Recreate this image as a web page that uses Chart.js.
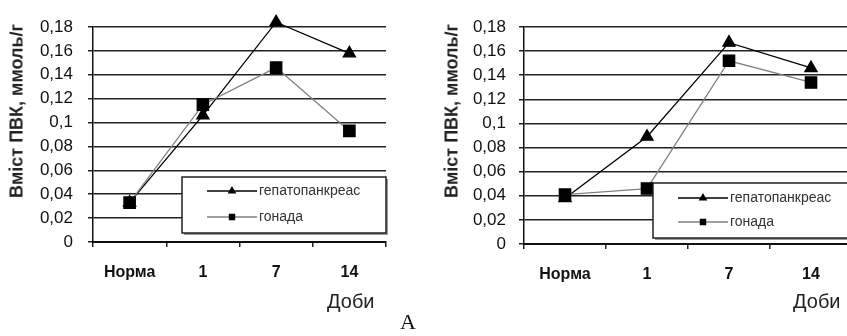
<!DOCTYPE html>
<html>
<head>
<meta charset="utf-8">
<script src="https://cdn.jsdelivr.net/npm/chart.js@4/dist/chart.umd.min.js"></script>
<style>
body { margin: 0; background: #fff; width: 847px; height: 336px; position: relative; overflow: hidden; font-family: "Liberation Sans", Arial, sans-serif; }
.panel { position: absolute; top: 0; height: 336px; overflow: hidden; }
#p1 { left: 0; width: 424px; }
#p2 { left: 424px; width: 423px; }
.ytitle { position: absolute; top: 111px; transform: translate(-50%, -50%) rotate(-90deg); white-space: nowrap; font-size: 18px; font-weight: bold; color: #222; }
.xtitle { position: absolute; top: 290px; font-size: 20px; color: #222; }
#letter { position: absolute; left: 400px; top: 309px; font-family: "Liberation Serif", "Times New Roman", serif; font-size: 22px; color: #111; }
</style>
</head>
<body>
<div class="panel" id="p1">
  <canvas id="chartA" width="424" height="336"></canvas>
  <div class="ytitle" style="left:17px">Вміст ПВК, ммоль/г</div>
  <div class="xtitle" style="left:327px">Доби</div>
</div>
<div class="panel" id="p2">
  <canvas id="chartB" width="440" height="336"></canvas>
  <div class="ytitle" style="left:28px">Вміст ПВК, ммоль/г</div>
  <div class="xtitle" style="left:369px">Доби</div>
</div>
<div id="letter">A</div>
<script>
// дані
const days = ['Норма', '1', '7', '14'];
const seriesNames = ['гепатопанкреас', 'гонада'];
const hepatoA = [0.033, 0.106, 0.184, 0.158];
const gonadA = [0.033, 0.115, 0.146, 0.093];
const hepatoB = [0.038, 0.089, 0.167, 0.146];
const gonadB = [0.041, 0.046, 0.152, 0.134];
const yMax = 0.18;
const yStep = 0.02;

// легенда в рамці всередині області графіка
const boxLegend = {
    id: 'boxLegend',
    afterDatasetsDraw(chart, args, opts) {
        const ctx = chart.ctx;
        const area = chart.chartArea;
        const x = area.right - opts.width;
        const y = area.bottom - opts.bottom - opts.height;
        ctx.save();
        ctx.fillStyle = '#999';
        ctx.fillRect(x + 2, y + 2, opts.width, opts.height);
        ctx.fillStyle = '#fff';
        ctx.fillRect(x, y, opts.width, opts.height);
        ctx.strokeStyle = '#222';
        ctx.lineWidth = 1.5;
        ctx.strokeRect(x, y, opts.width, opts.height);
        chart.data.datasets.forEach((ds, i) => {
            const ry = y + opts.rows[i];
            ctx.strokeStyle = ds.borderColor;
            ctx.lineWidth = 1.5;
            ctx.beginPath();
            ctx.moveTo(x + 25, ry);
            ctx.lineTo(x + 75, ry);
            ctx.stroke();
            ctx.fillStyle = '#000';
            ctx.strokeStyle = '#000';
            Chart.helpers.drawPoint(ctx, { pointStyle: ds.pointStyle, radius: 3.5, rotation: 0, borderWidth: 1 }, x + 50, ry);
            ctx.font = '14px "Liberation Sans", Arial, sans-serif';
            ctx.fillStyle = '#333';
            ctx.textBaseline = 'middle';
            ctx.textAlign = 'left';
            ctx.fillText(ds.label, x + 77, ry);
        });
        ctx.restore();
    }
};

function fmt(v) {
    return String(Number(v.toFixed(2))).replace('.', ',');
}

function makeChart(id, hepato, gonad, lay) {
    const ctx = document.getElementById(id).getContext('2d');
    return new Chart(ctx, {
        type: 'line',
        data: {
            labels: days,
            datasets: [{
                label: seriesNames[0],
                data: hepato,
                borderColor: '#000',
                borderWidth: 1.3,
                pointStyle: 'triangle',
                pointRadius: 7,
                pointBackgroundColor: '#000',
                pointBorderColor: '#000',
                tension: 0,
                clip: false,
                order: 1
            }, {
                label: seriesNames[1],
                data: gonad,
                borderColor: '#808080',
                borderWidth: 1.3,
                pointStyle: 'rect',
                pointRadius: 8,
                pointBackgroundColor: '#000',
                pointBorderColor: '#000',
                tension: 0,
                clip: false,
                order: 0
            }]
        },
        options: {
            responsive: false,
            animation: false,
            devicePixelRatio: 1,
            layout: { padding: { top: 27, right: lay.padRight, left: 0, bottom: 0 } },
            plugins: {
                legend: { display: false },
                tooltip: { enabled: false },
                boxLegend: lay.legend
            },
            scales: {
                x: {
                    offset: true,
                    grid: { offset: true, drawOnChartArea: false, drawTicks: true, tickLength: 5, color: '#222', lineWidth: 1.5 },
                    border: { color: '#111', width: 2 },
                    ticks: { font: { family: '"Liberation Sans", Arial, sans-serif', size: 16, weight: 'bold' }, color: '#111', padding: 16 },
                    afterFit: s => { s.height = lay.xHeight; }
                },
                y: {
                    min: 0,
                    max: yMax,
                    ticks: { stepSize: yStep, callback: v => fmt(v), font: { family: '"Liberation Sans", Arial, sans-serif', size: 17 }, color: '#111', padding: lay.yPad },
                    grid: { color: '#222', lineWidth: 1.5, tickLength: 5 },
                    border: { color: '#111', width: 1.5 },
                    afterFit: s => { s.width = lay.yWidth; }
                }
            }
        },
        plugins: [boxLegend]
    });
}

makeChart('chartA', hepatoA, gonadA, {
    padRight: 38, yWidth: 93, xHeight: 94, yPad: 15,
    legend: { width: 204, height: 56, bottom: 9, rows: [14, 40] }
});
makeChart('chartB', hepatoB, gonadB, {
    padRight: 12, yWidth: 100, xHeight: 92, yPad: 13,
    legend: { width: 199, height: 55, bottom: 6, rows: [15, 39] }
});
</script>
</body>
</html>
